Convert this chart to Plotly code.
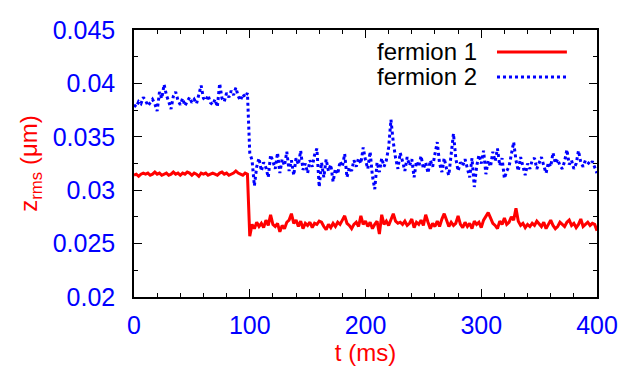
import plotly.graph_objects as go

fermion1 = [
    0.0314, 0.0315, 0.0313, 0.0315, 0.0316, 0.0315, 0.0316, 0.0314, 0.0315, 0.0317,
    0.0315, 0.0316, 0.0314, 0.0315, 0.0316, 0.0314, 0.0315, 0.0317, 0.0315, 0.0316,
    0.0314, 0.0316, 0.0315, 0.0317, 0.0316, 0.0314, 0.0316, 0.0315, 0.0313, 0.0316,
    0.0315, 0.0316, 0.0314, 0.0315, 0.0316, 0.0315, 0.0314, 0.0316, 0.0317, 0.0315,
    0.0316, 0.0314, 0.0315, 0.0316, 0.0318, 0.0316, 0.0315, 0.0314, 0.0316, 0.0315,
    0.0257, 0.0268, 0.0264, 0.0270, 0.0266, 0.0269, 0.0265, 0.0272, 0.0267, 0.0277,
    0.0268, 0.0266, 0.0269, 0.0261, 0.0267, 0.0264, 0.0270, 0.0272, 0.0278, 0.0269,
    0.0272, 0.0266, 0.0271, 0.0264, 0.0269, 0.0267, 0.0270, 0.0265, 0.0269, 0.0268,
    0.0271, 0.0270, 0.0266, 0.0263, 0.0268, 0.0265, 0.0269, 0.0266, 0.0270, 0.0268,
    0.0272, 0.0276, 0.0269, 0.0267, 0.0264, 0.0268, 0.0270, 0.0266, 0.0276, 0.0268,
    0.0271, 0.0266, 0.0270, 0.0264, 0.0268, 0.0271, 0.0259, 0.0277, 0.0268, 0.0271,
    0.0267, 0.0272, 0.0278, 0.0271, 0.0269, 0.0270, 0.0268, 0.0271, 0.0267, 0.0269,
    0.0273, 0.0265, 0.0270, 0.0268, 0.0272, 0.0267, 0.0277, 0.0270, 0.0264, 0.0269,
    0.0266, 0.0271, 0.0266, 0.0273, 0.0278, 0.0272, 0.0266, 0.0270, 0.0267, 0.0269,
    0.0276, 0.0268, 0.0265, 0.0270, 0.0266, 0.0269, 0.0264, 0.0271, 0.0268, 0.0270,
    0.0265, 0.0272, 0.0276, 0.0279, 0.0274, 0.0269, 0.0267, 0.0264, 0.0271, 0.0268,
    0.0274, 0.0268, 0.0270, 0.0275, 0.0272, 0.0283, 0.0271, 0.0267, 0.0269, 0.0265,
    0.0268, 0.0266, 0.0269, 0.0267, 0.0271, 0.0268, 0.0266, 0.0270, 0.0264, 0.0268,
    0.0272, 0.0267, 0.0264, 0.0266, 0.0270, 0.0268, 0.0266, 0.0270, 0.0272, 0.0267,
    0.0269, 0.0265, 0.0268, 0.0273, 0.0266, 0.0268, 0.0270, 0.0267, 0.0269, 0.0268,
    0.0262,
]

fermion2 = [
    0.0380, 0.0378, 0.0383, 0.0381, 0.0387, 0.0384, 0.0379, 0.0382, 0.0385, 0.0381,
    0.0374, 0.0392, 0.0386, 0.0399, 0.0389, 0.0383, 0.0376, 0.0388, 0.0392, 0.0384,
    0.0380, 0.0386, 0.0379, 0.0383, 0.0387, 0.0382, 0.0385, 0.0381, 0.0390, 0.0398,
    0.0386, 0.0384, 0.0389, 0.0382, 0.0380, 0.0385, 0.0378, 0.0400, 0.0386, 0.0383,
    0.0391, 0.0387, 0.0393, 0.0389, 0.0396, 0.0388, 0.0384, 0.0390, 0.0387, 0.0391,
    0.0335, 0.0328, 0.0304, 0.0322, 0.0330, 0.0318, 0.0326, 0.0321, 0.0312, 0.0333,
    0.0327, 0.0320, 0.0335, 0.0316, 0.0329, 0.0323, 0.0336, 0.0318, 0.0328, 0.0314,
    0.0330, 0.0324, 0.0337, 0.0319, 0.0325, 0.0316, 0.0328, 0.0322, 0.0333, 0.0339,
    0.0303, 0.0326, 0.0312, 0.0329, 0.0318, 0.0324, 0.0308, 0.0320, 0.0315, 0.0327,
    0.0322, 0.0334, 0.0312, 0.0321, 0.0318, 0.0328, 0.0322, 0.0330, 0.0325, 0.0340,
    0.0328, 0.0320, 0.0336, 0.0313, 0.0301, 0.0326, 0.0317, 0.0330, 0.0322, 0.0328,
    0.0340, 0.0366, 0.0345, 0.0330, 0.0320, 0.0335, 0.0327, 0.0318, 0.0331, 0.0323,
    0.0329, 0.0312, 0.0327, 0.0322, 0.0332, 0.0320, 0.0326, 0.0316, 0.0328, 0.0322,
    0.0334, 0.0345, 0.0325, 0.0317, 0.0330, 0.0320, 0.0314, 0.0335, 0.0353, 0.0330,
    0.0318, 0.0326, 0.0323, 0.0329, 0.0320, 0.0312, 0.0330, 0.0303, 0.0322, 0.0333,
    0.0325, 0.0337, 0.0315, 0.0328, 0.0322, 0.0336, 0.0327, 0.0339, 0.0323, 0.0330,
    0.0311, 0.0318, 0.0322, 0.0333, 0.0345, 0.0328, 0.0318, 0.0331, 0.0322, 0.0314,
    0.0325, 0.0320, 0.0328, 0.0330, 0.0320, 0.0325, 0.0331, 0.0323, 0.0316, 0.0326,
    0.0322, 0.0335, 0.0325, 0.0329, 0.0323, 0.0320, 0.0327, 0.0338, 0.0324, 0.0328,
    0.0320, 0.0325, 0.0337, 0.0326, 0.0322, 0.0328, 0.0326, 0.0324, 0.0327, 0.0322,
    0.0316,
]

t1 = [2 * i for i in range(len(fermion1))]
t2 = [2 * i for i in range(len(fermion2))]

y_ticks = [0.02, 0.025, 0.03, 0.035, 0.04, 0.045]
y_labels = ['0.02', '0.025', '0.03', '0.035', '0.04', '0.045']
x_ticks = [0, 100, 200, 300, 400]

FONT = 'Liberation Sans, Arial, sans-serif'

fig = go.Figure()
fig.add_trace(go.Scatter(x=t1, y=fermion1, mode='lines', name='fermion 1',
                         line=dict(color='#ff0000', width=3)))
fig.add_trace(go.Scatter(x=t2, y=fermion2, mode='lines', name='fermion 2',
                         line=dict(color='#0000ff', width=3, dash='dot')))

axis_common = dict(
    showline=True, linecolor='black', linewidth=1.5, mirror='allticks',
    ticks='inside', ticklen=8, tickwidth=1.2, tickcolor='black',
    showgrid=False, zeroline=False, automargin=False,
    tickfont=dict(family=FONT, size=25, color='#0000ff'),
)

fig.update_xaxes(
    range=[0, 400], tickvals=x_ticks,
    minor=dict(ticks='inside', dtick=20, ticklen=4, tickcolor='black', showgrid=False),
    title=dict(text='t (ms)', font=dict(family=FONT, size=24, color='#ff0000'), standoff=4),
    ticklabelstandoff=5,
    **axis_common,
)
fig.update_yaxes(
    range=[0.02, 0.045], tickvals=y_ticks, ticktext=y_labels,
    minor=dict(ticks='inside', dtick=0.0025, tick0=0.02, ticklen=4, tickcolor='black', showgrid=False),
    title=dict(text='z<sub>rms</sub> (μm)', font=dict(family=FONT, size=24, color='#ff0000'), standoff=8),
    ticklabelstandoff=12,
    **axis_common,
)

# gnuplot style key: text on the left, line sample on the right
legend_rows = [('fermion 1', '#ff0000', 'solid', 0.918), ('fermion 2', '#0000ff', 'dot', 0.824)]
for label, color, dash, yy in legend_rows:
    fig.add_annotation(x=0.743, y=yy, xref='paper', yref='paper', text=label,
                       showarrow=False, xanchor='right', yanchor='middle', borderpad=0,
                       font=dict(family=FONT, size=24, color='black'))
    fig.add_shape(type='line', xref='paper', yref='paper', x0=0.784, x1=0.935, y0=yy, y1=yy,
                  line=dict(color=color, width=3, dash=dash))

fig.update_layout(
    width=640, height=366,
    margin=dict(l=134, r=43, t=30, b=69),
    plot_bgcolor='white', paper_bgcolor='white',
    showlegend=False,
)

# drop the default body margin so the figure sits at the page corner
fig.write_html('out.html', config={'displayModeBar': False},
               post_script="document.body.style.margin='0';")
